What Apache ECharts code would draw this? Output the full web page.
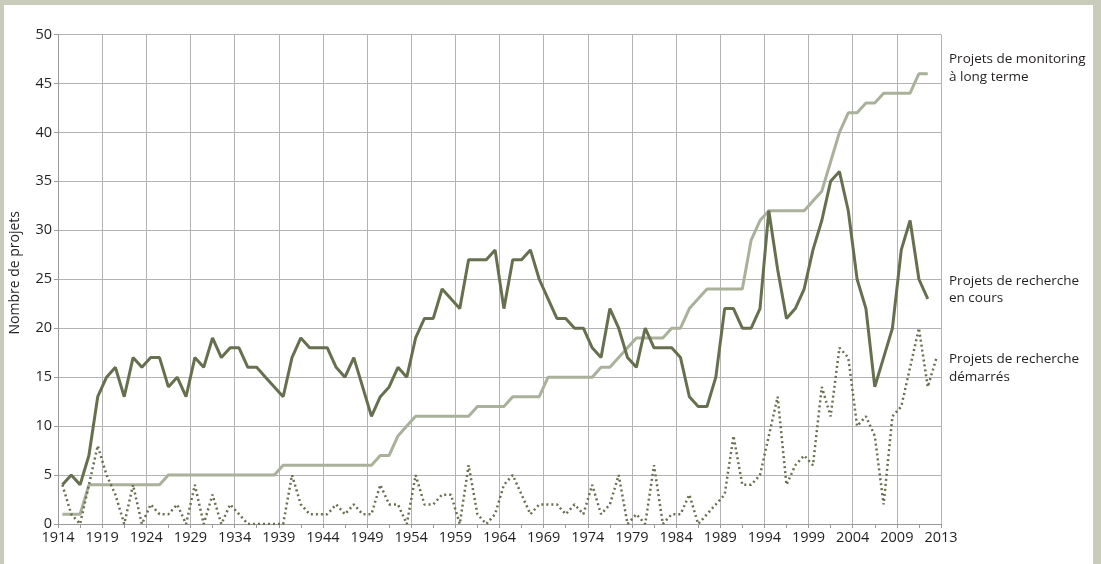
<!DOCTYPE html>
<html>
<head>
<meta charset="utf-8">
<script src="https://cdn.jsdelivr.net/npm/echarts@6/dist/echarts.min.js"></script>
<style>
  html, body { margin: 0; padding: 0; background: #c9ccba; }
  #chart { position: absolute; left: 0; top: 0; width: 1101px; height: 564px; }
</style>
</head>
<body>
<div id="chart"></div>
<script>
// Categories: years
const years = [
  1914,1915,1916,1917,1918,1919,1920,1921,1922,1923,
  1924,1925,1926,1927,1928,1929,1930,1931,1932,1933,
  1934,1935,1936,1937,1938,1939,1940,1941,1942,1943,
  1944,1945,1946,1947,1948,1949,1950,1951,1952,1953,
  1954,1955,1956,1957,1958,1959,1960,1961,1962,1963,
  1964,1965,1966,1967,1968,1969,1970,1971,1972,1973,
  1974,1975,1976,1977,1978,1979,1980,1981,1982,1983,
  1984,1985,1986,1987,1988,1989,1990,1991,1992,1993,
  1994,1995,1996,1997,1998,1999,2000,2001,2002,2003,
  2004,2005,2006,2007,2008,2009,2010,2011,2012,2013
];

// Projets de monitoring à long terme (1914–2012)
const monitoring = [
  1,1,1,4,4,4,4,4,4,4,
  4,4,5,5,5,5,5,5,5,5,
  5,5,5,5,5,6,6,6,6,6,
  6,6,6,6,6,6,7,7,9,10,
  11,11,11,11,11,11,11,12,12,12,
  12,13,13,13,13,15,15,15,15,15,
  15,16,16,17,18,19,19,19,19,20,
  20,22,23,24,24,24,24,24,29,31,
  32,32,32,32,32,33,34,37,40,42,
  42,43,43,44,44,44,44,46,46
];

// Projets de recherche en cours (1914–2012)
const enCours = [
  4,5,4,7,13,15,16,13,17,16,
  17,17,14,15,13,17,16,19,17,18,
  18,16,16,15,14,13,17,19,18,18,
  18,16,15,17,14,11,13,14,16,15,
  19,21,21,24,23,22,27,27,27,28,
  22,27,27,28,25,23,21,21,20,20,
  18,17,22,20,17,16,20,18,18,18,
  17,13,12,12,15,22,22,20,20,22,
  32,26,21,22,24,28,31,35,36,32,
  25,22,14,17,20,28,31,25,23
];

// Projets de recherche démarrés (1914–2013)
const demarres = [
  4,1,0,4,8,5,3,0,4,0,
  2,1,1,2,0,4,0,3,0,2,
  1,0,0,0,0,0,5,2,1,1,
  1,2,1,2,1,1,4,2,2,0,
  5,2,2,3,3,0,6,1,0,1,
  4,5,3,1,2,2,2,1,2,1,
  4,1,2,5,0,1,0,6,0,1,
  1,3,0,1,2,3,9,4,4,5,
  9,13,4,6,7,6,14,11,18,17,
  10,11,9,2,11,12,16,20,14,17
];

// Tick labels of the year axis (one every 5 years, last one at the right edge)
const xTickLabels = ['1914','1919','1924','1929','1934','1939','1944','1949','1954','1959',
  '1964','1969','1974','1979','1984','1989','1994','1999','2004','2009','2013'];

const seriesNames = ['Projets de monitoring', 'Projets de recherche en cours', 'Projets de recherche démarrés'];
const labelLines = [
  ['Projets de monitoring', 'à long terme'],
  ['Projets de recherche', 'en cours'],
  ['Projets de recherche', 'démarrés']
];

const FONT = '"Open Sans", "Noto Sans", sans-serif';
const TXT = '#231f20';
const GRIDC = '#b3b3b3';
const DARK = '#66704f';
const LIGHT = '#a9b19a';

const chart = echarts.init(document.getElementById('chart'), null, { renderer: 'canvas' });

const labelY = [[59, 77], [281, 298], [359, 377]];
const graphics = [
  { type: 'rect', z: -10, silent: true, shape: { x: 4, y: 5, width: 1089, height: 559 }, style: { fill: '#ffffff' } },
  { type: 'text', left: 8, top: 211, rotation: Math.PI / 2, z: 10,
    style: { text: 'Nombre de projets', font: '14px ' + FONT, fill: TXT } }
];
labelLines.forEach((lines, i) => {
  lines.forEach((t, j) => {
    graphics.push({ type: 'text', x: 949, y: labelY[i][j], z: 10,
      style: { text: t, font: '13.5px ' + FONT, fill: TXT, verticalAlign: 'middle', align: 'left' } });
  });
});

const option = {
  animation: false,
  backgroundColor: 'transparent',
  graphic: graphics,
  grid: { left: 58, right: 160, top: 34.5, bottom: 40, containLabel: false },
  xAxis: [
    {
      type: 'category', data: years, boundaryGap: true,
      axisLine: { show: false }, axisTick: { show: false }, axisLabel: { show: false }, splitLine: { show: false }
    },
    {
      type: 'value', min: 1914, max: 2014, interval: 5, position: 'bottom',
      axisLine: { show: true, onZero: false, lineStyle: { color: '#9a9a9a', width: 1 } },
      axisTick: { show: true, length: 4, lineStyle: { color: '#9a9a9a' } },
      minorTick: { show: true, splitNumber: 2, length: 4, lineStyle: { color: '#9a9a9a' } },
      splitLine: { show: true, lineStyle: { color: GRIDC, width: 1 } },
      axisLabel: {
        show: true, margin: 6, showMinLabel: true, showMaxLabel: true,
        color: TXT, fontFamily: FONT, fontSize: 14.5,
        formatter: v => xTickLabels[Math.round((v - 1914) / 5)]
      }
    }
  ],
  yAxis: {
    type: 'value', min: 0, max: 50, interval: 5,
    axisLine: { show: true, lineStyle: { color: '#9a9a9a', width: 1 } },
    axisTick: { show: true, length: 4, lineStyle: { color: '#9a9a9a' } },
    splitLine: { show: true, lineStyle: { color: GRIDC, width: 1 } },
    axisLabel: { color: TXT, fontFamily: FONT, fontSize: 14.5, margin: 6 }
  },
  series: [
    {
      name: seriesNames[0], type: 'line', xAxisIndex: 0, data: monitoring,
      symbol: 'none', lineStyle: { color: LIGHT, width: 3 }, z: 2
    },
    {
      name: seriesNames[1], type: 'line', xAxisIndex: 0, data: enCours,
      symbol: 'none', lineStyle: { color: DARK, width: 3 }, z: 3
    },
    {
      name: seriesNames[2], type: 'line', xAxisIndex: 0, data: demarres,
      symbol: 'none', lineStyle: { color: DARK, width: 2.5, type: [2, 3] }, z: 4
    }
  ]
};
chart.setOption(option);
</script>
</body>
</html>
